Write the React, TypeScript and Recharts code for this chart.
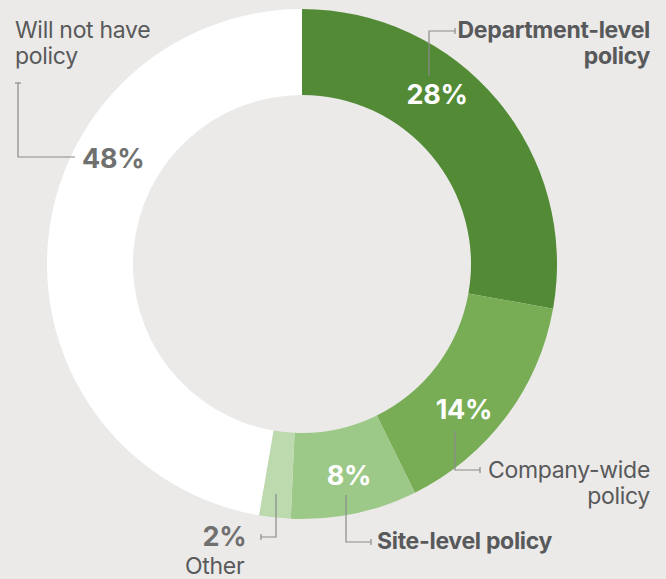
import React from 'react';
import { PieChart, Pie, Cell } from 'recharts';

// 回答の内訳（円弧の大きさは図から読み取った値、表示ラベルは図の表記どおり）
const categories = ['Department-level policy', 'Company-wide policy', 'Site-level policy', 'Other', 'Will not have policy'];
const shares = [27.8, 14.9, 8, 2, 47.3];
const pctLabels = ['28%', '14%', '8%', '2%', '48%'];
const sliceColors = ['#538a36', '#78ad56', '#9cc987', '#bcdaae', '#ffffff'];

// カテゴリ名の行
const labelLines = [['Department-level', 'policy'], ['Company-wide', 'policy'], ['Site-level policy'], ['Other'], ['Will not have', 'policy']];
const labelBold = [true, false, true, false, false];
const pctColors = ['#ffffff', '#ffffff', '#ffffff', '#707070', '#707070'];

// %ラベルの位置（円の中心からの角度・半径）
const pctAngle = [51.5, -42, -77.5, -105.9, 150.9];
const pctRadius = [217, 218, 217, 283, 216];

// 引き出し線とカテゴリ名の位置
const leaders = [
  { pts: [[429, 76], [429, 31], [455, 31]], tick: 'v', text: { x: 650, y: 38, anchor: 'end' } },
  { pts: [[455, 431], [455, 470], [480, 470]], tick: 'v', text: { x: 650, y: 478, anchor: 'end' } },
  { pts: [[346, 495], [346, 542], [371, 542]], tick: 'v', text: { x: 377, y: 549, anchor: 'start' } },
  { pts: [[276, 494], [276, 537], [261, 537]], tick: 'v', text: { x: 185, y: 574, anchor: 'start' } },
  { pts: [[75, 157], [18, 157], [18, 83]], tick: 'h', text: { x: 15, y: 38, anchor: 'start' } },
];

const data = categories.map((name, i) => ({ name, value: shares[i] }));

const FONT = 'Inter, "Liberation Sans", Arial, sans-serif';
const RAD = Math.PI / 180;
const LINE = '#8a8a8a';

function renderLabel(props: any) {
  const { cx, cy, index } = props;
  const a = pctAngle[index] * RAD;
  const px = cx + pctRadius[index] * Math.cos(a);
  const py = cy - pctRadius[index] * Math.sin(a);
  const ld = leaders[index];
  const end = ld.pts[ld.pts.length - 1];
  const tick = ld.tick === 'v'
    ? <line x1={end[0]} y1={end[1] - 3} x2={end[0]} y2={end[1] + 3} stroke={LINE} strokeWidth={1.2} />
    : <line x1={end[0] - 3} y1={end[1]} x2={end[0] + 3} y2={end[1]} stroke={LINE} strokeWidth={1.2} />;
  return (
    <g key={`lbl-${index}`}>
      <polyline points={ld.pts.map((p) => p.join(',')).join(' ')} fill="none" stroke={LINE} strokeWidth={1.2} />
      {tick}
      <text
        x={px}
        y={py}
        textAnchor="middle"
        dominantBaseline="central"
        fill={pctColors[index]}
        fontFamily={FONT}
        fontWeight={700}
        fontSize={27}
        letterSpacing={-0.3}
      >
        {pctLabels[index]}
      </text>
      <text
        x={ld.text.x}
        y={ld.text.y}
        textAnchor={ld.text.anchor}
        fill="#58595b"
        fontFamily={FONT}
        fontWeight={labelBold[index] ? 700 : 400}
        fontSize={23}
        letterSpacing={-0.3}
      >
        {labelLines[index].map((line, j) => (
          <tspan key={j} x={ld.text.x} dy={j === 0 ? 0 : 26}>{line}</tspan>
        ))}
      </text>
    </g>
  );
}

export default function App() {
  return (
    <div style={{ position: 'absolute', left: 0, top: 0, width: 666, height: 579, background: '#ebeae8', overflow: 'hidden' }}>
      <PieChart width={666} height={579} margin={{ top: 0, right: 0, bottom: 0, left: 0 }}>
        <Pie
          data={data}
          dataKey="value"
          nameKey="name"
          cx={302}
          cy={264}
          innerRadius={169}
          outerRadius={255}
          startAngle={90}
          endAngle={-270}
          stroke="none"
          label={renderLabel}
          labelLine={false}
          isAnimationActive={false}
        >
          {data.map((d, i) => (
            <Cell key={d.name} fill={sliceColors[i]} />
          ))}
        </Pie>
      </PieChart>
    </div>
  );
}
